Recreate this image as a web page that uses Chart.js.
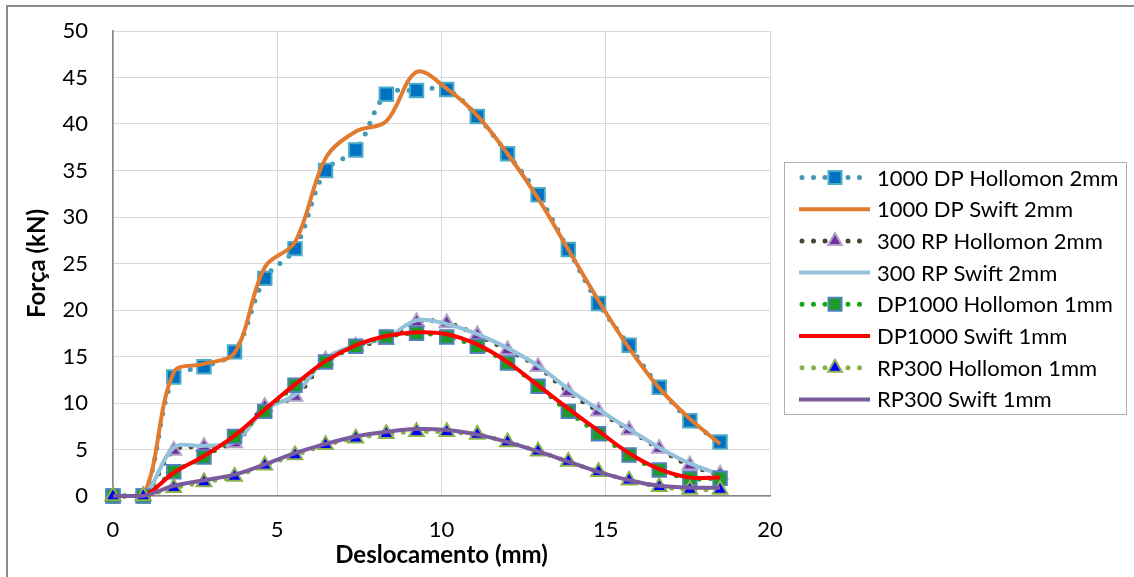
<!DOCTYPE html>
<html>
<head>
<meta charset="utf-8">
<script src="https://cdn.jsdelivr.net/npm/chart.js@4.4.1/dist/chart.umd.min.js"></script>
<style>
  html, body { margin: 0; padding: 0; background: #fff; }
</style>
</head>
<body>
<canvas id="myChart" width="1134" height="577"></canvas>
<script>
// displacement (mm), shared by every series
const deslocamento = [0, 0.92, 1.85, 2.77, 3.70, 4.62, 5.54, 6.47, 7.39, 8.32, 9.24,
    10.16, 11.09, 12.01, 12.94, 13.86, 14.78, 15.71, 16.63, 17.56, 18.48]

// force (kN)
const dp1000Hollomon2 = [0, 0, 12.8, 13.9, 15.5, 23.4, 26.6, 35.0, 37.2, 43.2, 43.6,
    43.7, 40.8, 36.8, 32.4, 26.5, 20.7, 16.2, 11.7, 8.1, 5.8]
const dp1000Swift2 = [0, 0, 13.3, 14.2, 15.4, 24.6, 27.3, 36.3, 39.2, 40.3, 45.6,
    43.8, 40.9, 36.8, 32.0, 26.5, 21.0, 15.9, 11.6, 8.3, 5.6]
const rp300Hollomon2 = [0, 0, 4.9, 5.3, 5.7, 9.6, 10.7, 14.6, 16.1, 16.8, 18.7,
    18.6, 17.3, 15.7, 13.9, 11.2, 9.1, 7.1, 5.1, 3.3, 2.3]
const rp300Swift2 = [0, 0, 5.2, 5.4, 5.8, 9.3, 10.9, 14.8, 16.2, 17.0, 18.9,
    18.5, 17.4, 15.9, 14.0, 11.5, 9.3, 7.2, 5.2, 3.5, 2.3]
const dp1000Hollomon1 = [0, 0, 2.6, 4.2, 6.4, 9.1, 11.9, 14.4, 16.1, 17.1, 17.5,
    17.1, 16.1, 14.3, 11.8, 9.1, 6.7, 4.4, 2.8, 1.9, 1.9]
const dp1000Swift1 = [0, 0, 2.5, 4.3, 6.5, 9.3, 12.0, 14.5, 16.2, 17.2, 17.6,
    17.4, 16.3, 14.4, 11.9, 9.4, 7.0, 4.6, 2.9, 2.0, 2.0]
const rp300Hollomon1 = [0, 0, 0.9, 1.5, 2.1, 3.3, 4.4, 5.5, 6.2, 6.7, 6.9,
    6.9, 6.6, 5.8, 4.8, 3.7, 2.6, 1.7, 1.0, 0.7, 0.7]
const rp300Swift1 = [0, 0, 1.1, 1.7, 2.3, 3.4, 4.6, 5.6, 6.4, 6.9, 7.2,
    7.1, 6.6, 5.8, 4.8, 3.7, 2.6, 1.7, 1.1, 0.9, 0.9]

const seriesNames = ['1000 DP Hollomon 2mm', '1000 DP Swift 2mm', '300 RP Hollomon 2mm', '300 RP Swift 2mm',
    'DP1000 Hollomon 1mm', 'DP1000 Swift 1mm', 'RP300 Hollomon 1mm', 'RP300 Swift 1mm']

const xTicks = [0, 5, 10, 15, 20]
const yTicks = [0, 5, 10, 15, 20, 25, 30, 35, 40, 45, 50]

const FONT = 'Lato'

function pts(ys) {
    return ys.map((y, i) => ({ x: deslocamento[i], y: y }))
}

// Hollomon series: round-dot line with markers
function dotted(label, ys, lineColor, style, fill, border) {
    return {
        label, data: pts(ys), showLine: true, tension: 0.35,
        borderColor: lineColor, borderWidth: 5, borderDash: [0, 11.5], borderCapStyle: 'round',
        pointStyle: style, pointRadius: style === 'rect' ? 9.5 : 8.5, pointBorderWidth: 2,
        pointBackgroundColor: fill, pointBorderColor: border, clip: false
    }
}

// Swift series: smooth solid line
function solid(label, ys, color) {
    return {
        label, data: pts(ys), showLine: true, tension: 0.35,
        borderColor: color, borderWidth: 4, pointRadius: 0, clip: false
    }
}

const datasets = [
    dotted(seriesNames[0], dp1000Hollomon2, '#4298B5', 'rect', '#0070C0', '#4BACC6'),
    solid(seriesNames[1], dp1000Swift2, '#E07B30'),
    dotted(seriesNames[2], rp300Hollomon2, '#4A4530', 'triangle', '#7030A0', '#B3A2C7'),
    solid(seriesNames[3], rp300Swift2, '#93C3DA'),
    dotted(seriesNames[4], dp1000Hollomon1, '#14A614', 'rect', '#1E9A28', '#4F81BD'),
    solid(seriesNames[5], dp1000Swift1, '#FF0000'),
    dotted(seriesNames[6], rp300Hollomon1, '#8DB04F', 'triangle', '#0000FF', '#8DB04F'),
    solid(seriesNames[7], rp300Swift1, '#7A5C9E')
]
// later series are painted on top
datasets.forEach((d, i) => { d.order = datasets.length - i })

function legendMarker(ctx, d, x, y) {
    ctx.fillStyle = d.pointBackgroundColor
    ctx.strokeStyle = d.pointBorderColor
    ctx.lineWidth = 2
    ctx.setLineDash([])
    ctx.beginPath()
    if (d.pointStyle === 'rect') {
        ctx.rect(x - 6.5, y - 6.5, 13, 13)
    } else {
        const r = 8
        ctx.moveTo(x, y - r)
        ctx.lineTo(x + r * 0.866, y + r / 2)
        ctx.lineTo(x - r * 0.866, y + r / 2)
        ctx.closePath()
    }
    ctx.fill()
    ctx.stroke()
}

const frameAndLegend = {
    id: 'frameAndLegend',
    beforeDraw(chart) {
        const ctx = chart.ctx
        ctx.save()
        ctx.strokeStyle = '#8a8a8a'
        ctx.lineWidth = 2
        ctx.strokeRect(7, 6, 1200, 1200)
        ctx.restore()
    },
    afterDraw(chart) {
        const ctx = chart.ctx
        ctx.save()
        ctx.strokeStyle = '#b0b0b0'
        ctx.lineWidth = 1
        ctx.strokeRect(784.5, 162.5, 342, 252)
        ctx.font = '22px ' + FONT
        ctx.textBaseline = 'middle'
        datasets.forEach((d, i) => {
            const y = 177.5 + i * 31.7
            ctx.strokeStyle = d.borderColor
            if (d.borderDash) {
                ctx.lineWidth = 5
                ctx.lineCap = 'round'
                ctx.setLineDash([0, 11.5])
                ctx.beginPath()
                ctx.moveTo(802, y)
                ctx.lineTo(870, y)
                ctx.stroke()
                legendMarker(ctx, d, 835, y)
            } else {
                ctx.lineWidth = 4
                ctx.setLineDash([])
                ctx.lineCap = 'butt'
                ctx.beginPath()
                ctx.moveTo(799, y)
                ctx.lineTo(870, y)
                ctx.stroke()
            }
            ctx.fillStyle = '#000'
            ctx.fillText(d.label, 877, y + 1)
        })
        ctx.restore()
    }
}

const canvas = document.getElementById('myChart')

const config = {
    type: 'scatter',
    data: { datasets },
    options: {
        responsive: false,
        animation: false,
        events: [],
        layout: { padding: { top: 31, right: 364, left: 0, bottom: 0 } },
        plugins: {
            legend: { display: false },
            tooltip: { enabled: false }
        },
        scales: {
            x: {
                min: 0, max: 20,
                afterFit: s => { s.height = 81; s.paddingLeft = 0; s.paddingRight = 0 },
                afterBuildTicks: s => { s.ticks = xTicks.map(v => ({ value: v })) },
                grid: { color: '#d9d9d9', lineWidth: 1, drawTicks: false },
                border: { color: '#868686', width: 1.5 },
                ticks: { font: { family: FONT, size: 22 }, color: '#000', padding: 21 },
                title: {
                    display: true, text: 'Deslocamento (mm)', color: '#000',
                    font: { family: FONT, size: 24, weight: 'bold' }, padding: { top: 0, bottom: 7 }
                }
            },
            y: {
                min: 0, max: 50,
                afterFit: s => { s.width = 113; s.paddingTop = 0; s.paddingBottom = 0 },
                afterBuildTicks: s => { s.ticks = yTicks.map(v => ({ value: v })) },
                grid: { color: '#d9d9d9', lineWidth: 1, drawTicks: false },
                border: { color: '#868686', width: 1.5 },
                ticks: { font: { family: FONT, size: 22 }, color: '#000', padding: 25 },
                title: {
                    display: true, text: 'Força (kN)', color: '#000',
                    font: { family: FONT, size: 24, weight: 'bold' }, padding: { top: 23, bottom: 0 }
                }
            }
        }
    },
    plugins: [frameAndLegend]
}

document.fonts.load('22px ' + FONT).then(() => document.fonts.load('bold 24px ' + FONT)).finally(() => {
    const myChart = new Chart(canvas, config)
})
</script>
</body>
</html>
